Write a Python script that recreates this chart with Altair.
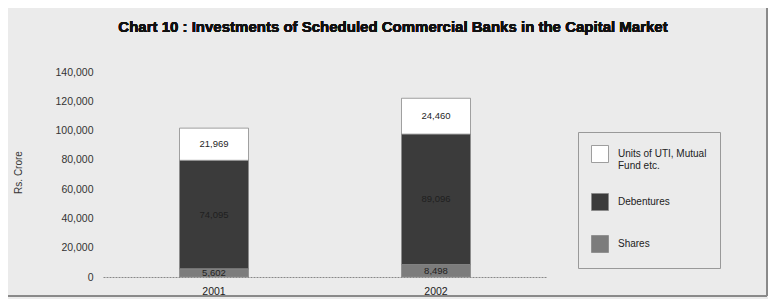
import altair as alt
import pandas as pd

years = ["2001", "2002"]
categories = ["Shares", "Debentures", "Units of UTI, Mutual Fund etc."]
shares = [5602, 8498]
debentures = [74095, 89096]
units = [21969, 24460]
y_ticks = [0, 20000, 40000, 60000, 80000, 100000, 120000, 140000]
title_text = "Chart 10 : Investments of Scheduled Commercial Banks in the Capital Market"

rows = []
for i, yr in enumerate(years):
    for k, (cat, vals) in enumerate(zip(categories, [shares, debentures, units])):
        rows.append({"year": yr, "cat": cat, "value": vals[i], "ord": k})
df = pd.DataFrame(rows)

legend_order = ["Units of UTI, Mutual Fund etc.", "Debentures", "Shares"]
colors = ["#ffffff", "#3b3b3b", "#7c7c7c"]
FONT = "Liberation Sans"

x_axis = alt.Axis(labelAngle=0, ticks=False, domain=True, domainColor="#888",
                  domainDash=[2, 1], labelFont=FONT, labelFontSize=10.5,
                  labelColor="#222", labelPadding=9)
y_axis = alt.Axis(values=y_ticks, format=",d", grid=False, ticks=False, domain=False,
                  labelOverlap=False, labelBound=False, labelFlush=False,
                  labelFont=FONT, labelFontSize=10.5, labelColor="#333", labelPadding=10,
                  titleFont=FONT, titleFontSize=10, titleFontWeight="normal",
                  titleColor="#333", titleX=-80, titleY=100)
x_scale = alt.Scale(paddingInner=0.6, paddingOuter=0.3)
y_scale = alt.Scale(domain=[0, 140000], nice=False)

base = alt.Chart(df).transform_stack(
    stack="value", as_=["y0", "y1"], groupby=["year"], sort=[alt.SortField("ord")]
).transform_calculate(mid="(datum.y0 + datum.y1) / 2")

bars = base.mark_bar(width=69, stroke="#8a8a8a", strokeWidth=0.8).encode(
    x=alt.X("year:N", title=None, sort=years, scale=x_scale, axis=x_axis),
    y=alt.Y("y0:Q", title="Rs. Crore", scale=y_scale, axis=y_axis),
    y2="y1:Q",
    color=alt.Color("cat:N", sort=legend_order, title=None,
                    scale=alt.Scale(domain=legend_order, range=colors),
                    legend=alt.Legend(orient="none", legendX=475, legendY=60,
                                      symbolType="square", symbolSize=289,
                                      symbolStrokeColor="#888", symbolStrokeWidth=0.8,
                                      labelFont=FONT, labelFontSize=10, labelColor="#222",
                                      labelExpr="datum.label == 'Units of UTI, Mutual Fund etc.' ? ['Units of UTI, Mutual', 'Fund etc.'] : datum.label",
                                      labelLimit=200, labelOffset=9, rowPadding=20,
                                      padding=13, strokeColor="#999",
                                      labelBaseline="middle")),
)

labels = base.mark_text(font=FONT, fontSize=9.5, color="#1f1f1f").encode(
    x=alt.X("year:N", title=None, sort=years, scale=x_scale, axis=x_axis),
    y=alt.Y("mid:Q", title="Rs. Crore", scale=y_scale, axis=y_axis),
    text=alt.Text("value:Q", format=",d"),
)

frame = alt.Chart(df).mark_rect(fill=None, stroke="#888", strokeWidth=1).encode(
    x=alt.value(-97), x2=alt.value(664), y=alt.value(-66), y2=alt.value(224)
)

title = alt.Chart(df).mark_text(
    font=FONT, fontSize=15, fontWeight="bold", color="#111", align="center", baseline="middle"
).encode(x=alt.value(290), y=alt.value(-45), text=alt.value(title_text))

chart = alt.layer(frame, title, bars, labels).properties(
    width=444, height=205,
    autosize="none",
    padding={"left": 95, "top": 64, "right": 221, "bottom": 22},
    background="#ebebeb",
).configure_view(stroke=None)

chart.save("out.html", embed_options={"renderer": "svg", "actions": False})
